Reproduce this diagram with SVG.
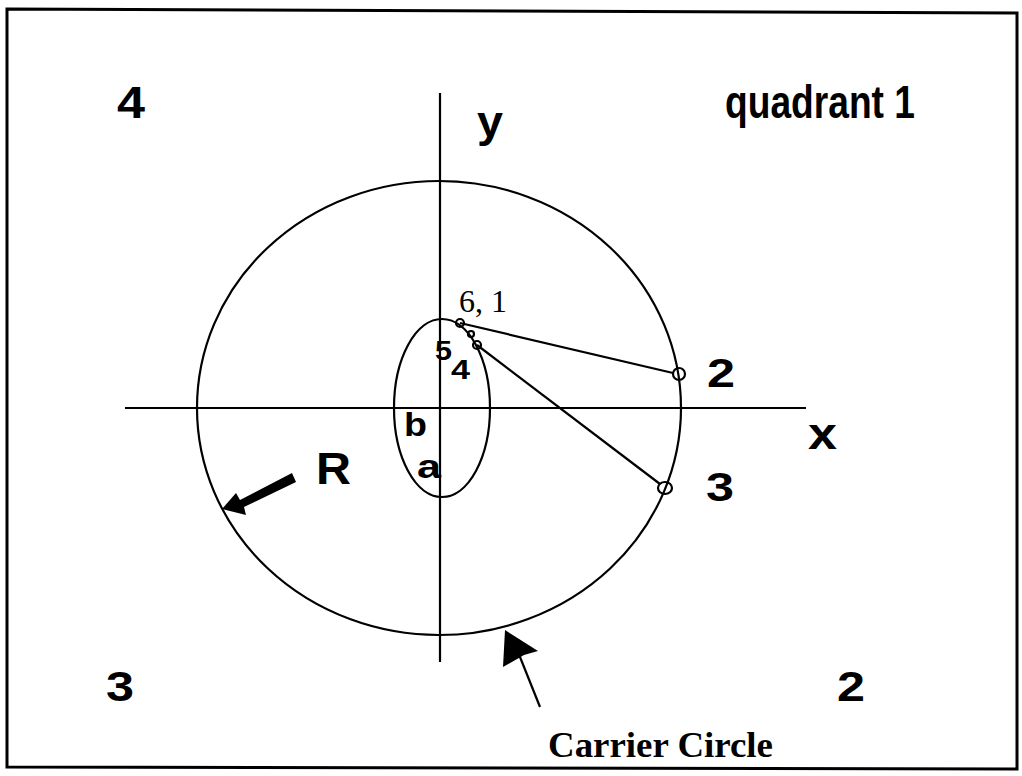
<svg xmlns="http://www.w3.org/2000/svg" width="1022" height="776" viewBox="0 0 1022 776">
<style>
.ln{fill:none;stroke:#000;stroke-width:2.2}
.sans{font-family:"Liberation Sans",Arial,sans-serif;font-weight:bold;fill:#000}
.serif{font-family:"Liberation Serif","Times New Roman",serif;fill:#000}
</style>
<rect width="1022" height="776" fill="#fff"/>
<polygon points="7,9 1017,13 1017,769 7,767" fill="none" stroke="#000" stroke-width="3"/>
<g id="axes">
<line class="ln" x1="125" y1="408" x2="806" y2="408"/>
<line class="ln" x1="440" y1="93" x2="440" y2="662"/>
</g>
<g id="carrier-circle">
<ellipse class="ln" cx="439" cy="408" rx="242" ry="227" stroke-width="2.6"/>
</g>
<g id="inner-ellipse">
<ellipse class="ln" cx="442" cy="408" rx="48" ry="89"/>
</g>
<g id="connectors">
<line class="ln" x1="460" y1="323" x2="673" y2="373"/>
<line class="ln" x1="477" y1="345" x2="660" y2="484"/>
<polygon points="292,473 296,482 244,507 246,515 222,509 236,493 240,500" fill="#000"/>
<line class="ln" x1="540" y1="707" x2="518" y2="652" stroke-width="2.5"/>
<polygon points="505,630 538,651 524,655 503,667" fill="#000"/>
</g>
<g id="points">
<circle class="ln" cx="460" cy="323" r="4"/>
<circle class="ln" cx="471" cy="334" r="3" fill="#000"/>
<circle class="ln" cx="477" cy="345" r="4"/>
<circle class="ln" cx="679" cy="374" r="6"/>
<ellipse class="ln" cx="665" cy="488" rx="7" ry="6"/>
</g>
<g id="labels">
<text class="sans" x="117" y="118" font-size="44" textLength="28" lengthAdjust="spacingAndGlyphs">4</text>
<text class="sans" x="725" y="118" font-size="46" textLength="190" lengthAdjust="spacingAndGlyphs">quadrant 1</text>
<text class="sans" x="477" y="137" font-size="44" textLength="26" lengthAdjust="spacingAndGlyphs">y</text>
<text class="serif" x="459" y="312" font-size="32">6, 1</text>
<text class="sans" x="435" y="360" font-size="28" textLength="17" lengthAdjust="spacingAndGlyphs">5</text>
<text class="sans" x="451" y="379" font-size="28" textLength="19" lengthAdjust="spacingAndGlyphs">4</text>
<text class="sans" x="707" y="387" font-size="40" textLength="28" lengthAdjust="spacingAndGlyphs">2</text>
<text class="sans" x="808" y="449" font-size="44" textLength="29" lengthAdjust="spacingAndGlyphs">x</text>
<text class="sans" x="706" y="501" font-size="40" textLength="28" lengthAdjust="spacingAndGlyphs">3</text>
<text class="sans" x="404" y="436" font-size="34" textLength="23" lengthAdjust="spacingAndGlyphs">b</text>
<text class="sans" x="417" y="478" font-size="34" textLength="24" lengthAdjust="spacingAndGlyphs">a</text>
<text class="sans" x="316" y="484" font-size="44" textLength="35" lengthAdjust="spacingAndGlyphs">R</text>
<text class="sans" x="106" y="701" font-size="42" textLength="28" lengthAdjust="spacingAndGlyphs">3</text>
<text class="sans" x="837" y="701" font-size="42" textLength="28" lengthAdjust="spacingAndGlyphs">2</text>
<text class="serif" x="548" y="757" font-size="36" font-weight="bold" textLength="225" lengthAdjust="spacingAndGlyphs">Carrier Circle</text>
</g>
</svg>
